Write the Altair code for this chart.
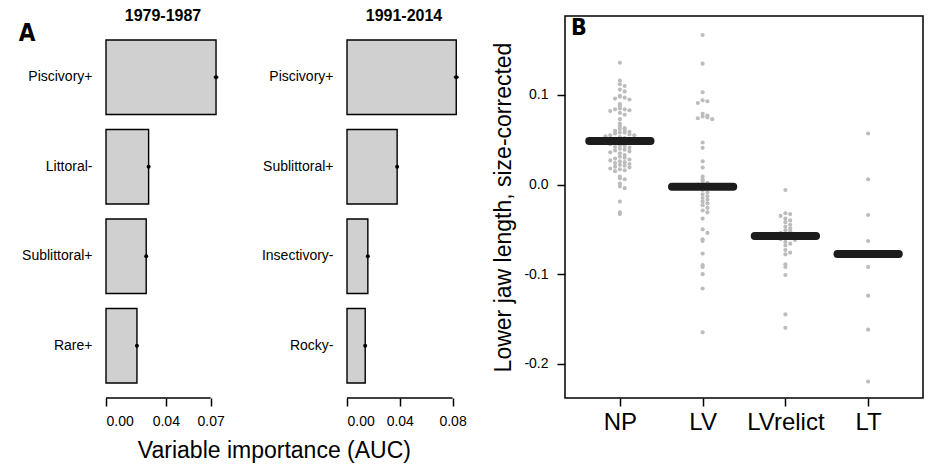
import json
import altair as alt
import pandas as pd

FONT = "Liberation Sans, Arial, sans-serif"
NARROW = "Liberation Sans Narrow, DejaVu Sans Condensed, Liberation Sans, sans-serif"

# ---------------- Panel A data ----------------
p1_title = "1979-1987"
p1_vars = ["Piscivory+", "Littoral-", "Sublittoral+", "Rare+"]
p1_auc = [0.0736, 0.0285, 0.0269, 0.0207]
p1_err = [0.0015, 0.0006, 0.0006, 0.0006]
p1_ticks = [0.00, 0.04, 0.07]

p2_title = "1991-2014"
p2_vars = ["Piscivory+", "Sublittoral+", "Insectivory-", "Rocky-"]
p2_auc = [0.0828, 0.0380, 0.0158, 0.0138]
p2_err = [0.0018, 0.0006, 0.0008, 0.0006]
p2_ticks = [0.00, 0.04, 0.08]

a_xtitle = "Variable importance (AUC)"

# ---------------- Panel B data ----------------
groups = ["NP", "LV", "LVrelict", "LT"]
np_vals = [0.136, 0.116, 0.112, 0.110, 0.106, 0.104, 0.099, 0.098, 0.097, 0.096,
           0.095, 0.090, 0.088, 0.085, 0.084, 0.084, 0.083, 0.082, 0.080, 0.078,
           0.073, 0.068, 0.065, 0.063, 0.062, 0.061, 0.060, 0.059, 0.058, 0.058,
           0.057, 0.056, 0.055, 0.055, 0.054, 0.053, 0.052, 0.051, 0.050, 0.049,
           0.048, 0.047, 0.046, 0.045, 0.044, 0.043, 0.042, 0.041, 0.040, 0.039,
           0.038, 0.037, 0.036, 0.035, 0.033, 0.031, 0.030, 0.029, 0.028, 0.027,
           0.026, 0.025, 0.024, 0.023, 0.022, 0.021, 0.020, 0.019, 0.018, 0.017,
           0.016, 0.015, 0.009, 0.007, 0.006, 0.001, -0.002, -0.004, -0.019,
           -0.031, -0.033]
lv_vals = [0.167, 0.135, 0.103, 0.094, 0.093, 0.091, 0.079, 0.077, 0.076, 0.075,
           0.074, 0.073, 0.047, 0.041, 0.026, 0.019, 0.009, 0.006, 0.004, 0.002,
           0.000, -0.002, -0.004, -0.006, -0.009, -0.011, -0.013, -0.015, -0.017,
           -0.019, -0.021, -0.023, -0.026, -0.029, -0.031, -0.038, -0.050, -0.054,
           -0.061, -0.063, -0.077, -0.090, -0.092, -0.100, -0.116, -0.165]
lvr_vals = [-0.006, -0.032, -0.033, -0.035, -0.038, -0.040, -0.042, -0.045, -0.047,
            -0.049, -0.051, -0.052, -0.054, -0.055, -0.056, -0.057, -0.058, -0.059,
            -0.060, -0.061, -0.062, -0.064, -0.066, -0.068, -0.073, -0.076, -0.078,
            -0.089, -0.092, -0.101, -0.145, -0.160]
lt_vals = [0.057, 0.006, -0.034, -0.063, -0.092, -0.124, -0.162, -0.220]
group_means = [0.0485, -0.0025, -0.0575, -0.0775]
b_yticks = [0.1, 0.0, -0.1, -0.2]
b_ytitle = "Lower jaw length, size-corrected"

H = 382
MEAN_HALF = 0.37
SWARM_STEP = 0.058
SWARM_BIN = 0.0045


def imp_panel(title, vars_, auc, err, ticks, xmax, width, letter=None):
    df = pd.DataFrame({
        "var": vars_, "auc": auc,
        "lo": [a - e for a, e in zip(auc, err)],
        "hi": [a + e for a, e in zip(auc, err)],
    })
    yenc = alt.Y("var:N", sort=vars_, title=None,
                 scale=alt.Scale(paddingInner=0.168, paddingOuter=0.218, align=0.615),
                 axis=alt.Axis(ticks=False, domain=False, grid=False, labelPadding=14,
                               labelFontSize=14, labelFont=FONT, labelColor="black"))
    xenc = alt.X("auc:Q", title=None,
                 scale=alt.Scale(domain=[0, xmax], nice=False, zero=True),
                 axis=alt.Axis(values=ticks, format=".2f", domain=False, grid=False,
                               tickSize=8, tickWidth=1.5, tickColor="black",
                               labelFontSize=14, labelFont=FONT, labelColor="black",
                               labelPadding=8))
    ysub = alt.Y("var:N", sort=vars_)
    base = alt.Chart(df)
    bars = base.mark_bar(fill="#d0d0d0", stroke="black", strokeWidth=1.4).encode(y=yenc, x=xenc)
    errs = base.mark_rule(color="black", strokeWidth=2).encode(
        y=ysub, x="lo:Q", x2="hi:Q")
    dots = base.mark_circle(color="black", size=16, opacity=1).encode(
        y=ysub, x="auc:Q")
    axline = alt.Chart(pd.DataFrame({"t0": [ticks[0]], "t1": [ticks[-1]]})).mark_rule(
        color="black", strokeWidth=1.5).encode(
        x="t0:Q", x2="t1:Q", y=alt.value(H))
    layers = [bars, errs, dots, axline]
    if letter:
        layers.append(alt.Chart(pd.DataFrame({"t": [letter]})).mark_text(
            font=NARROW, fontSize=24, fontWeight="bold", color="black", align="center",
            baseline="middle").encode(text="t:N", x=alt.value(-79), y=alt.value(18)))
    return alt.layer(*layers).properties(
        width=width, height=H,
        view=alt.ViewBackground(stroke="transparent", strokeWidth=0),
        title=alt.TitleParams(title, fontSize=16, fontWeight="bold", font=FONT,
                              color="black", anchor="middle", frame="group",
                              baseline="middle", offset=-16))


A1 = imp_panel(p1_title, p1_vars, p1_auc, p1_err, p1_ticks, 0.07625, 114, letter="A")
A2 = imp_panel(p2_title, p2_vars, p2_auc, p2_err, p2_ticks, 0.0864, 114)

A = alt.hconcat(A1, A2, spacing=36).properties(
    title=alt.TitleParams(a_xtitle, orient="bottom", fontSize=23, fontWeight="normal",
                          font=FONT, color="black", anchor="middle", offset=12, dx=32))

# ---------------- Panel B ----------------
rows = []
for g, vals in zip(groups, [np_vals, lv_vals, lvr_vals, lt_vals]):
    for v in vals:
        rows.append({"grp": g, "val": v})
dfB = pd.DataFrame(rows)
dfM = pd.DataFrame({"grp": groups, "mean": group_means})
GJS = json.dumps(groups)

xB = alt.X("xpos:Q", title=None,
           scale=alt.Scale(domain=[-0.663, 3.663], nice=False, zero=False),
           axis=alt.Axis(values=[0, 1, 2, 3], labelExpr=f"{GJS}[datum.value]",
                         domain=False, grid=False, tickSize=8, tickWidth=1.5,
                         tickColor="black", labelFontSize=24, labelFont=FONT,
                         labelColor="black", labelPadding=4))
yB = alt.Y("val:Q", title=b_ytitle,
           scale=alt.Scale(domain=[-0.2383, 0.1882], nice=False, zero=False),
           axis=alt.Axis(values=b_yticks,
                         labelExpr="replace(format(datum.value, '.1f'), '\u2212', '-')",
                         domain=False, grid=False, tickSize=8, tickWidth=1.5,
                         tickColor="black", labelFontSize=14, labelFont=FONT,
                         labelColor="black", labelPadding=9, titleFontSize=23,
                         titleFont=FONT, titleFontWeight="normal", titleColor="black",
                         titlePadding=8))

pts = alt.Chart(dfB).transform_calculate(
    gi=f"indexof({GJS}, datum.grp)",
    yb=f"floor(datum.val / {SWARM_BIN})",
).transform_window(
    rn="row_number()", groupby=["grp", "yb"]
).transform_calculate(
    xpos=f"datum.gi + (datum.rn % 2 == 0 ? 1 : -1) * floor(datum.rn / 2) * {SWARM_STEP}"
).mark_circle(color="#bcbcbc", size=17, opacity=1).encode(x=xB, y=yB)

means = alt.Chart(dfM).transform_calculate(
    gi=f"indexof({GJS}, datum.grp)",
).transform_calculate(
    lo=f"datum.gi - {MEAN_HALF}", hi=f"datum.gi + {MEAN_HALF}"
).mark_rule(color="#1c1c1c", strokeWidth=8, strokeCap="round").encode(
    x="lo:Q", x2="hi:Q", y="mean:Q")

bletter = alt.Chart(pd.DataFrame({"t": ["B"]})).mark_text(
    font=NARROW, fontSize=23, fontWeight="bold", color="black", align="center",
    baseline="middle").encode(text="t:N", x=alt.value(14), y=alt.value(12))

B = alt.layer(pts, means, bletter).properties(
    width=358, height=H,
    view=alt.ViewBackground(stroke="black", strokeWidth=1.5))

chart = alt.hconcat(A, B, spacing=25).properties(
    padding={"left": 10, "top": 0, "right": 0, "bottom": 0}
).configure_view(stroke="transparent").configure_axis(
    grid=False, domain=False
).configure(font=FONT)

chart.save("out.html", embed_options={"renderer": "svg", "actions": False})
